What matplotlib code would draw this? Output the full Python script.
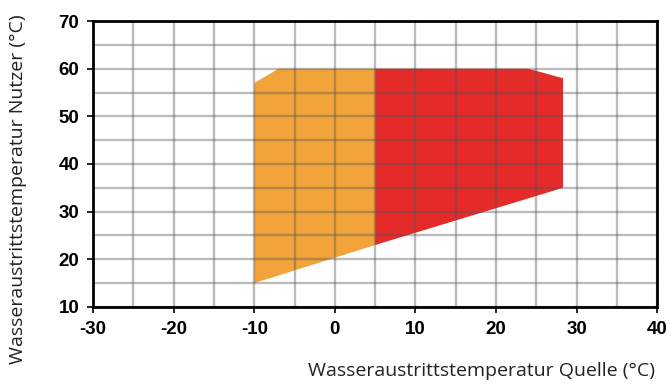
import matplotlib
matplotlib.use("Agg")
import matplotlib.pyplot as plt

plt.rcParams["axes.unicode_minus"] = False

# Einsatzgrenzen (Quelle, Nutzer)
orange_x = [-10, -10, -7, 5, 5]
orange_y = [15, 57, 60, 60, 23]
red_x = [5, 5, 24, 28.3, 28.3]
red_y = [23, 60, 60, 58, 35]

xticks = [-30, -20, -10, 0, 10, 20, 30, 40]
yticks = [10, 20, 30, 40, 50, 60, 70]
xminor = [-25, -15, -5, 5, 15, 25, 35]
yminor = [15, 25, 35, 45, 55, 65]

fig = plt.figure(figsize=(6.7, 3.9), dpi=100)
ax = fig.add_axes([0.139, 0.213, 0.842, 0.733])

ax.fill(orange_x, orange_y, color="#F2A43A", lw=0, zorder=1)
ax.fill(red_x, red_y, color="#E52A2A", lw=0, zorder=1)

ax.set_xlim(-30, 40)
ax.set_ylim(10, 70)
ax.set_xticks(xticks)
ax.set_yticks(yticks)
ax.set_xticks(xminor, minor=True)
ax.set_yticks(yminor, minor=True)
ax.grid(True, which="both", color="#555555", alpha=0.4, lw=1.7, zorder=2)
ax.set_axisbelow(False)

for s in ax.spines.values():
    s.set_linewidth(2)
    s.set_zorder(3)

ax.tick_params(which="major", length=4, width=1.2, direction="out", pad=6)
ax.tick_params(which="minor", length=0)
for lab in ax.get_xticklabels() + ax.get_yticklabels():
    lab.set_family(["Liberation Sans Narrow", "Liberation Sans"])
    lab.set_fontweight("bold")
    lab.set_fontsize(13.5)

fig.text(0.978, 0.025, "Wasseraustrittstemperatur Quelle (°C)", ha="right", va="bottom",
         fontsize=14, family="Open Sans", color="#222222")
fig.text(0.027, 0.515, "Wasseraustrittstemperatur Nutzer (°C)", ha="center", va="center",
         rotation=90, fontsize=14, family="Open Sans", color="#222222")

fig.savefig("out.png", dpi=100)
